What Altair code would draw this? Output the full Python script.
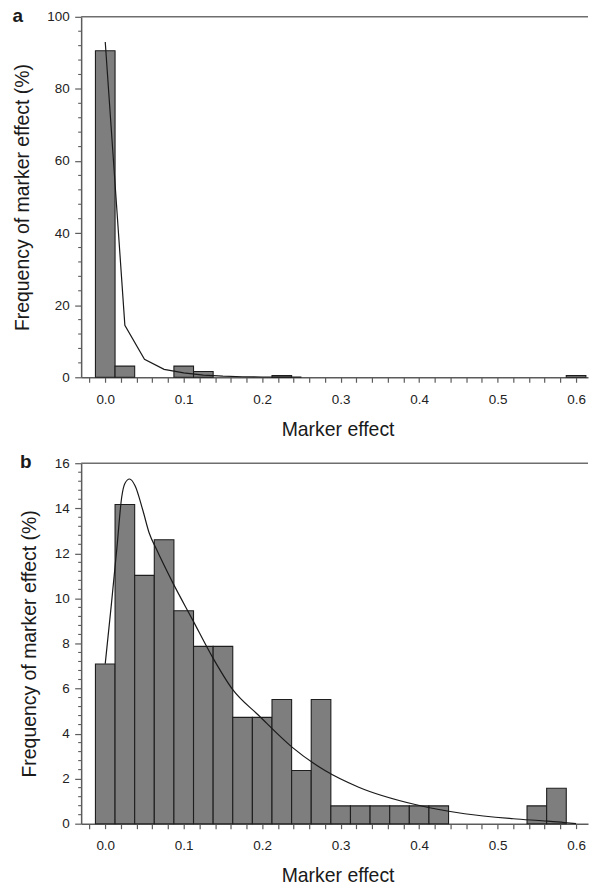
import altair as alt
import pandas as pd

# Histogram bins are 0.025 wide and centred on multiples of 0.025
BIN_WIDTH = 0.025
X_DOMAIN = [-0.0307, 0.6152]
PLOT_W = 509
PLOT_H = 362
FONT = "Liberation Sans"
AXIS_GREY = "#5c5c5c"
BAR_FILL = "#7e7e7e"
BAR_EDGE = "#1e1e1e"
INK = "#1a1a1a"

# (a) all markers
a_bin_centers = [0.0, 0.025, 0.1, 0.125, 0.225, 0.6]
a_freq_pct = [90.6, 3.1, 3.1, 1.6, 0.5, 0.5]
a_fit_x = [0.0, 0.025, 0.05, 0.075, 0.1, 0.125, 0.15, 0.175, 0.2, 0.25]
a_fit_y = [93.0, 14.4, 5.0, 2.2, 1.2, 0.6, 0.3, 0.15, 0.08, 0.03]

# (b) markers with non-negligible effect
b_bin_centers = [0.0, 0.025, 0.05, 0.075, 0.1, 0.125, 0.15, 0.175, 0.2, 0.225,
                 0.25, 0.275, 0.3, 0.325, 0.35, 0.375, 0.4, 0.425, 0.55, 0.575]
b_freq_pct = [7.09, 14.17, 11.02, 12.60, 9.45, 7.87, 7.87, 4.72, 4.72, 5.51,
              2.36, 5.51, 0.79, 0.79, 0.79, 0.79, 0.79, 0.79, 0.79, 1.57]
b_fit_x = [0.0, 0.008, 0.015, 0.021, 0.025, 0.031, 0.038, 0.048, 0.056, 0.065,
           0.086, 0.111, 0.137, 0.162, 0.196, 0.238, 0.28, 0.323, 0.395, 0.458,
           0.52, 0.56, 0.585, 0.6]
b_fit_y = [7.1, 9.8, 12.3, 14.5, 15.1, 15.3, 15.0, 13.9, 12.9, 12.2,
           10.7, 9.07, 7.37, 5.97, 4.79, 3.4, 2.36, 1.62, 0.85, 0.44,
           0.22, 0.12, 0.05, 0.0]

X_TICKS = [round(-0.02 + 0.02 * i, 2) for i in range(32)]
X_LABEL_EXPR = ("abs(datum.value * 10 - round(datum.value * 10)) < 0.001"
                " ? format(datum.value, '.1f') : ''")


def panel(tag, centers, freq, fit_x, fit_y, y_max, y_step, y_minor_step, interp):
    bars = pd.DataFrame({
        "lo": [c - BIN_WIDTH / 2 for c in centers],
        "hi": [c + BIN_WIDTH / 2 for c in centers],
        "pct": freq,
    })
    fit = pd.DataFrame({"lo": fit_x, "pct": fit_y})

    n_major = int(round(y_max / y_step))
    y_major = [y_step * i for i in range(n_major + 1)]
    n_minor = int(round(y_max / y_minor_step))
    y_minor = [round(y_minor_step * i, 3) for i in range(n_minor + 1)
               if abs(y_minor_step * i / y_step - round(y_minor_step * i / y_step)) > 1e-6]

    x_scale = alt.Scale(domain=X_DOMAIN, nice=False, zero=False)
    y_scale = alt.Scale(domain=[0, y_max], nice=False, zero=True)

    x_axis = alt.Axis(
        title="Marker effect", values=X_TICKS, labelExpr=X_LABEL_EXPR,
        tickSize=5, labelPadding=10, titlePadding=14.5, titleX=PLOT_W / 2 + 3,
        grid=False, labelOverlap=False, labelFlush=False, labelBound=False,
    )
    y_axis = alt.Axis(
        title="Frequency of marker effect (%)", values=y_major, format="d",
        tickSize=6.5, labelPadding=5.5, titlePadding=14.5, grid=False,
        labelOverlap=False, labelFlush=False, labelBound=False,
    )

    def xenc(field):
        return alt.X(field, type="quantitative", scale=x_scale, axis=x_axis)

    def yenc(field):
        return alt.Y(field, type="quantitative", scale=y_scale, axis=y_axis)

    hist = alt.Chart(bars).mark_bar(
        fill=BAR_FILL, stroke=BAR_EDGE, strokeWidth=1.1, opacity=1
    ).encode(
        x=xenc("lo"), x2="hi:Q",
        y=yenc("pct"), y2=alt.datum(0),
    )

    curve = alt.Chart(fit).mark_line(
        color=INK, strokeWidth=1.2, interpolate=interp
    ).encode(x=xenc("lo"), y=yenc("pct"))

    # short minor ticks between the labelled ones on the frequency axis
    minor_ticks = alt.Chart(pd.DataFrame({"pct": y_minor})).mark_rule(
        color=AXIS_GREY, strokeWidth=1.1
    ).encode(
        y=yenc("pct"),
        x=alt.value(-3),
        x2=alt.value(0),
    )

    top_edge = alt.Chart(pd.DataFrame({"pct": [y_max]})).mark_rule(
        color="#6e6e6e", strokeWidth=1.6
    ).encode(y=yenc("pct"))

    return alt.layer(hist, curve, minor_ticks, top_edge).properties(
        width=PLOT_W,
        height=PLOT_H,
        title=alt.TitleParams(
            tag, anchor="start", frame="bounds", orient="top", offset=-16,
            fontSize=19, fontWeight="bold", font=FONT, color=INK,
        ),
    )


panel_a = panel("a", a_bin_centers, a_freq_pct, a_fit_x, a_fit_y, 100, 20, 4, "linear")
panel_b = panel("b", b_bin_centers, b_freq_pct, b_fit_x, b_fit_y, 16, 2, 0.4, "monotone")

chart = alt.vconcat(panel_a, panel_b, spacing=86.3, bounds="flush").properties(
    padding={"left": 11.5, "top": 5, "right": 0, "bottom": 0}
).configure_view(stroke=None).configure_axis(
    domainColor=AXIS_GREY, domainWidth=1.5,
    tickColor=AXIS_GREY, tickWidth=1.2,
    labelFont=FONT, labelFontSize=13.5, labelColor="#222222",
    titleFont=FONT, titleFontSize=19.5, titleFontWeight="normal", titleColor=INK,
)

chart.save("out.html", embed_options={"renderer": "svg", "actions": False})
